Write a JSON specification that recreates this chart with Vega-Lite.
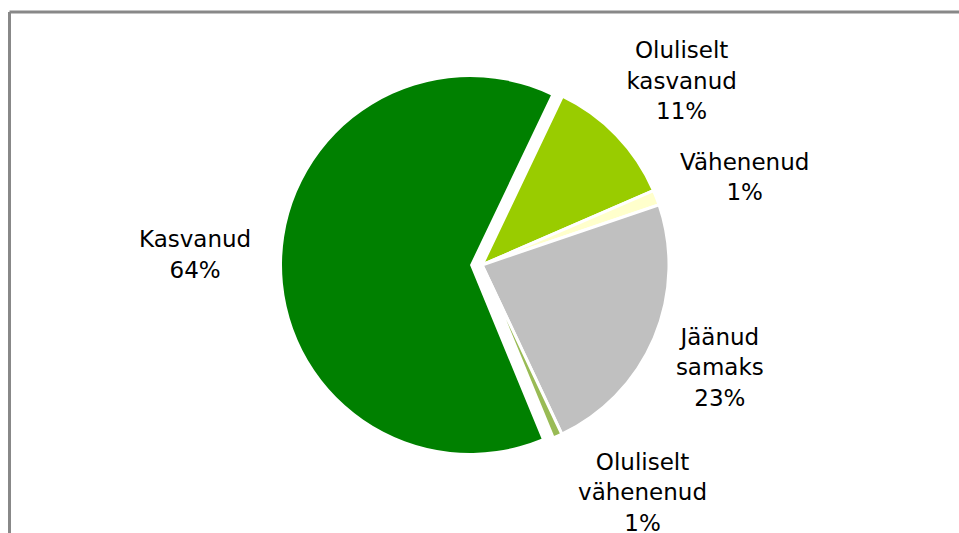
{
  "$schema": "https://vega.github.io/schema/vega-lite/v6.json",
  "width": 922,
  "height": 507,
  "autosize": {"type": "none"},
  "padding": {"left": 9, "top": 11.5, "right": 28, "bottom": 15},
  "background": "white",
  "config": {"view": {"stroke": null}, "text": {"font": "DejaVu Sans", "fontSize": 23, "lineHeight": 30.5, "lineBreak": "\n", "align": "center", "baseline": "middle", "color": "black"}},
  "data": {
    "values": [
      {"category": "Oluliselt kasvanud", "share": 11.4, "label": "Oluliselt\nkasvanud\n11%", "idx": 1},
      {"category": "Vähenenud", "share": 1.3, "label": "Vähenenud\n1%", "idx": 2},
      {"category": "Jäänud samaks", "share": 23.2, "label": "Jäänud\nsamaks\n23%", "idx": 3},
      {"category": "Oluliselt vähenenud", "share": 0.8, "label": "Oluliselt\nvähenenud\n1%", "idx": 4},
      {"category": "Kasvanud", "share": 63.3, "label": "Kasvanud\n64%", "idx": 5}
    ]
  },
  "layer": [
    {
      "mark": {"type": "arc", "outerRadius": 188, "strokeWidth": 0},
      "encoding": {
        "theta": {"field": "share", "type": "quantitative", "stack": true, "scale": {"range": [0.445, 6.7282]}},
        "order": {"field": "idx"},
        "color": {"field": "category", "type": "nominal", "legend": null,
          "scale": {"domain": ["Oluliselt kasvanud", "Vähenenud", "Jäänud samaks", "Oluliselt vähenenud", "Kasvanud"],
                    "range": ["#99CC00", "#FFFFCC", "#C0C0C0", "#99BB55", "#008000"]}},
        "opacity": {"condition": {"test": "datum.category === 'Kasvanud'", "value": 1}, "value": 0}
      }
    },
    {
      "mark": {"type": "arc", "outerRadius": 187, "xOffset": 12, "stroke": "white", "strokeWidth": 3},
      "encoding": {
        "theta": {"field": "share", "type": "quantitative", "stack": true},
        "order": {"field": "idx"},
        "color": {"field": "category", "type": "nominal", "legend": null},
        "opacity": {"condition": {"test": "datum.category !== 'Kasvanud'", "value": 1}, "value": 0}
      }
    },
    {
      "mark": {"type": "text", "radius": 283, "xOffset": 8, "dy": -17},
      "encoding": {
        "theta": {"field": "share", "type": "quantitative", "stack": true},
        "order": {"field": "idx"},
        "text": {"field": "label", "type": "nominal"},
        "opacity": {"condition": {"test": "datum.category === 'Kasvanud' || datum.category === 'Oluliselt kasvanud'", "value": 1}, "value": 0}
      }
    },
    {
      "mark": {"type": "text", "radius": 280, "thetaOffset": 0.059, "xOffset": 8, "dy": -17},
      "encoding": {
        "theta": {"field": "share", "type": "quantitative", "stack": true},
        "order": {"field": "idx"},
        "text": {"field": "label", "type": "nominal"},
        "opacity": {"condition": {"test": "datum.category === 'Vähenenud'", "value": 1}, "value": 0}
      }
    },
    {
      "mark": {"type": "text", "radius": 258, "thetaOffset": -0.045, "xOffset": 8, "dy": -17},
      "encoding": {
        "theta": {"field": "share", "type": "quantitative", "stack": true},
        "order": {"field": "idx"},
        "text": {"field": "label", "type": "nominal"},
        "opacity": {"condition": {"test": "datum.category === 'Jäänud samaks'", "value": 1}, "value": 0}
      }
    },
    {
      "mark": {"type": "text", "radius": 271, "thetaOffset": -0.246, "xOffset": 6, "dy": -16},
      "encoding": {
        "theta": {"field": "share", "type": "quantitative", "stack": true},
        "order": {"field": "idx"},
        "text": {"field": "label", "type": "nominal"},
        "opacity": {"condition": {"test": "datum.category === 'Oluliselt vähenenud'", "value": 1}, "value": 0}
      }
    },
    {
      "mark": {"type": "point", "opacity": 0},
      "encoding": {
        "x": {"datum": 0, "type": "quantitative", "scale": {"domain": [0, 1], "range": [0, 960]},
              "axis": {"orient": "top", "labels": false, "ticks": false, "title": null, "grid": false, "domainColor": "#888888", "domainWidth": 3}},
        "y": {"datum": 0, "type": "quantitative", "scale": {"domain": [0, 1], "range": [540, 0]},
              "axis": {"orient": "left", "labels": false, "ticks": false, "title": null, "grid": false, "domainColor": "#888888", "domainWidth": 3}}
      }
    }
  ]
}
